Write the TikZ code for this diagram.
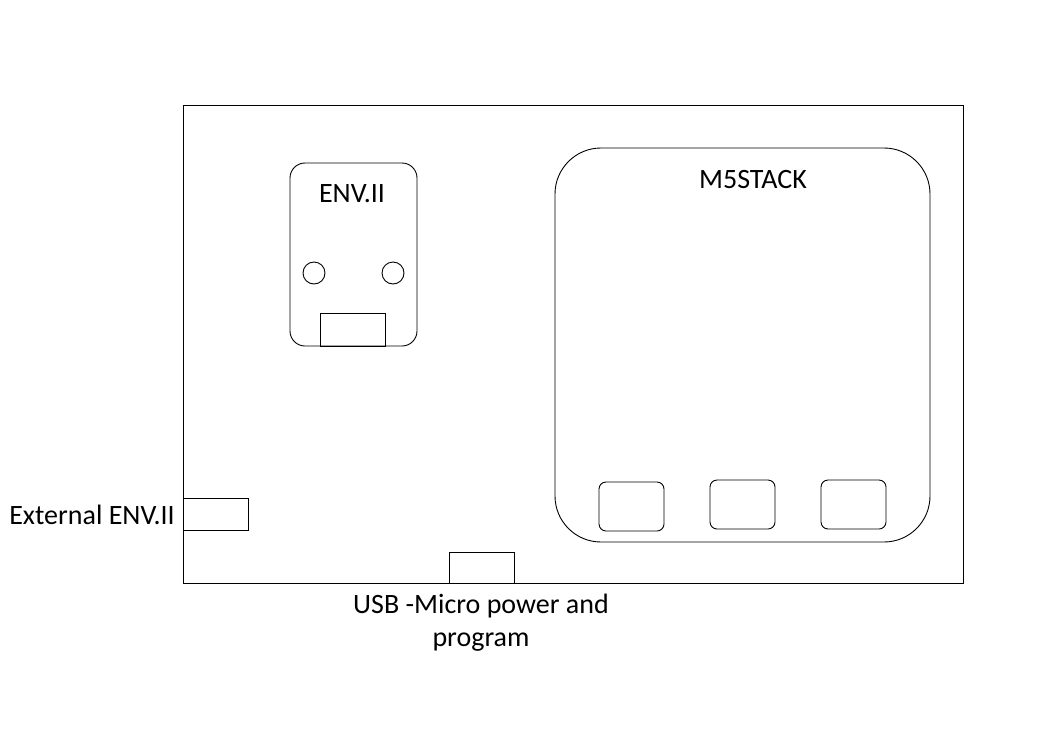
\documentclass[tikz,border=0pt]{standalone}
\usepackage{fontspec}
\setmainfont{Carlito}
\usetikzlibrary{positioning}

\begin{document}
\begin{tikzpicture}[x=1pt, y=-1pt,
    board/.style={draw, line width=1pt},
    part/.style={draw, line width=0.9pt, rounded corners=#1},
    part/.default=0pt,
    label/.style={font=\fontsize{28}{33}\selectfont, inner sep=0pt}]
  % 画布大小
  \useasboundingbox (0,0) rectangle (1064,737);

  % 主板
  \draw[board] (183,105) rectangle (963,583);

  % ENV.II 模块
  \draw[part=15pt] (290,163) rectangle (417,346);
  \node[label] (envlabel) at (352,194) {ENV.II};
  \draw[part] (314,273) circle (11);
  \draw[part] (393,273) circle (11);
  \draw[part] (320,313) rectangle (385,346);

  % M5STACK 主机
  \draw[part=46pt] (555,148) rectangle (930,542);
  \node[label] (m5label) at (753,180) {M5STACK};
  \foreach \x/\y in {599/482, 710/480, 821/480}
    \draw[part=7pt] (\x,\y) rectangle ++(65,49);

  % 接口
  \draw[part] (183,498) rectangle (248,530);
  \node[label, anchor=east] (extlabel) at (175,515) {External ENV.II};
  \draw[part] (449,552) rectangle (514,583);
  \node[label, align=center] (usblabel) at (481,623)
    {USB -Micro power and\\program};

\end{tikzpicture}
\end{document}
